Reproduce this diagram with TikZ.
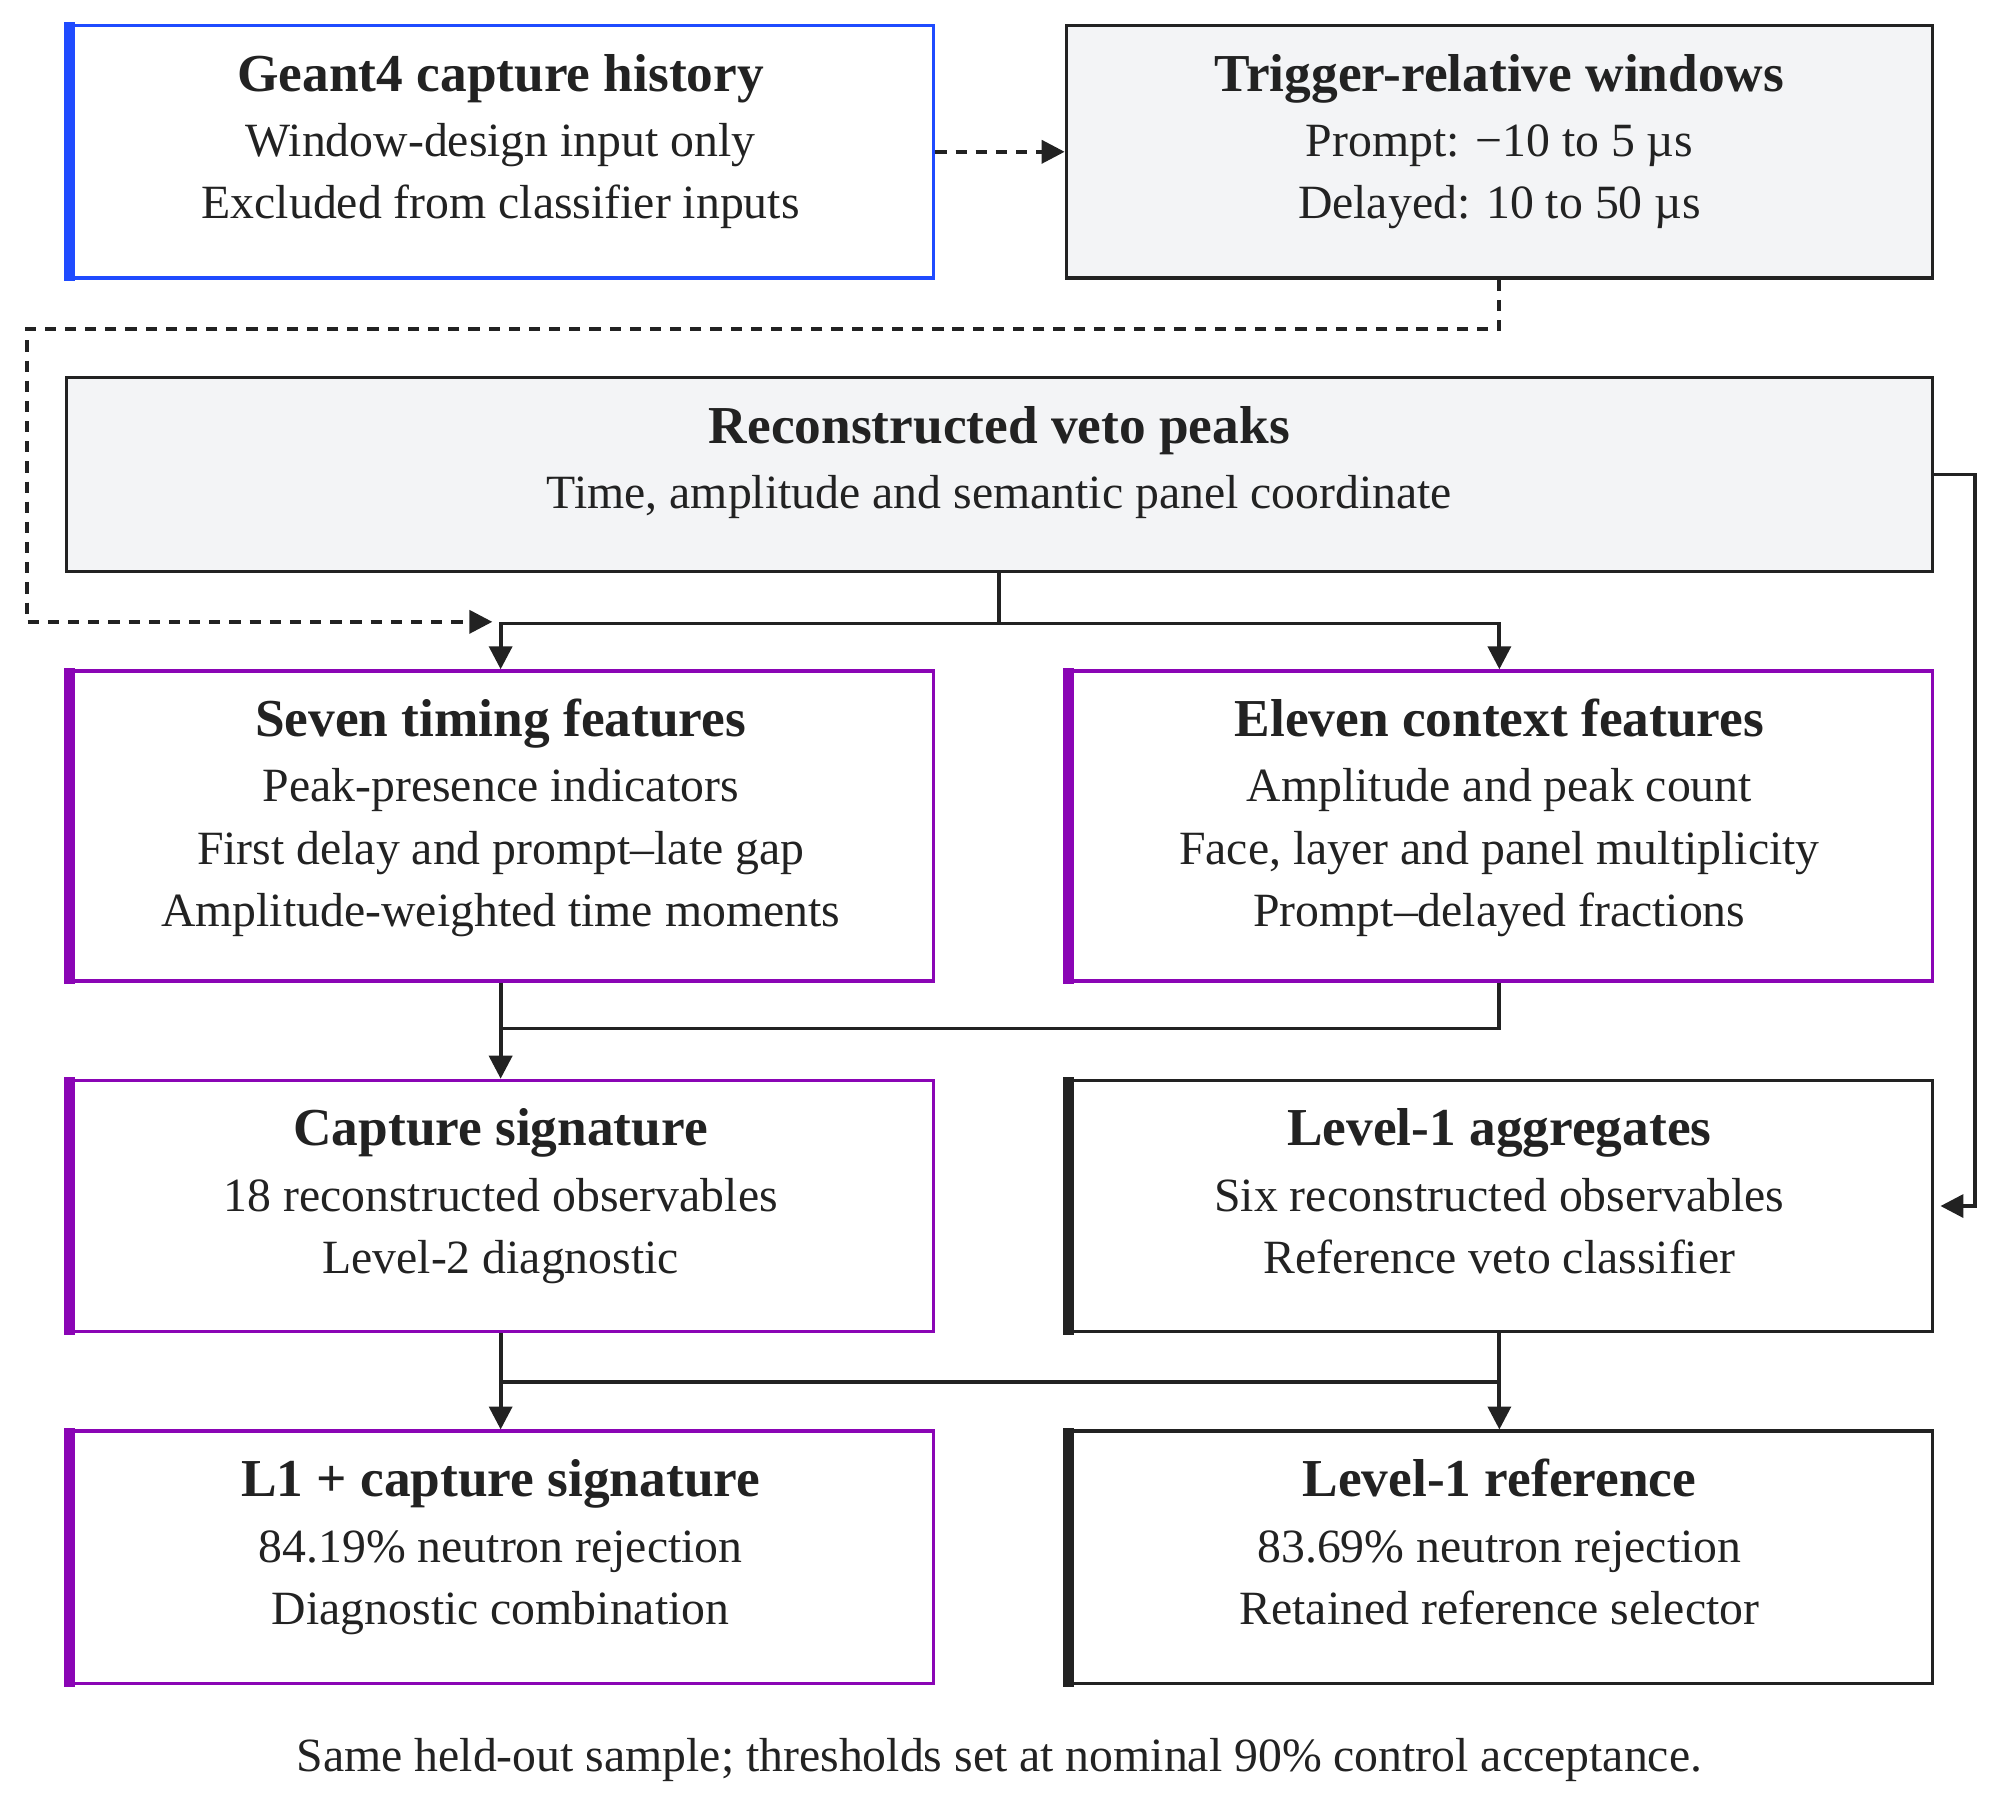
\documentclass[tikz,border=0pt]{standalone}
\usepackage{fontspec}
\setmainfont{Liberation Serif}
\usetikzlibrary{arrows.meta}
\definecolor{ink}{HTML}{222222}
\definecolor{paper}{HTML}{F3F4F6}
\definecolor{blu}{HTML}{1F4BFF}
\definecolor{purp}{HTML}{8A05B5}
\newcommand{\boxtitle}[1]{{\fontsize{11.9}{13.9}\selectfont\bfseries\strut #1}\\[0.7pt]}

\begin{document}
\begin{tikzpicture}[
	box/.style={draw=ink, line width=0.75pt, minimum width=6.79cm, minimum height=1.98cm, inner sep=0pt},
	grey/.style={box, fill=paper},
	wire/.style={draw=ink, line width=0.85pt},
	link/.style={wire, -{Triangle[length=1.8mm,width=1.8mm]}},
	hint/.style={link, dash pattern=on 2.5pt off 2pt},
	txt/.style={anchor=north, align=center, text=ink, inner sep=0pt, font=\fontsize{10.65}{13.9}\selectfont}]
\useasboundingbox (0,0) rectangle (15.68,-14.25);

% boxes
\node [box, draw=blu] (g4) at (3.925,-1.19) {};
\node [grey] (trig) at (11.755,-1.19) {};
\node [grey, minimum width=14.63cm, minimum height=1.52cm] (peaks) at (7.835,-3.72) {};
\node [box, draw=purp, minimum height=2.43cm] (seven) at (3.925,-6.475) {};
\node [box, draw=purp, minimum height=2.43cm] (eleven) at (11.755,-6.475) {};
\node [box, draw=purp, minimum height=1.97cm] (cap) at (3.925,-9.455) {};
\node [box, minimum height=1.97cm] (agg) at (11.755,-9.455) {};
\node [box, draw=purp] (l1cap) at (3.925,-12.21) {};
\node [box] (l1ref) at (11.755,-12.21) {};

% thick left edges
\foreach \b/\c in {g4/blu, seven/purp, eleven/purp, cap/purp, l1cap/purp, agg/ink, l1ref/ink}
	\fill [\c] ([shift={(-0.375pt,0.375pt)}]\b.north west) rectangle ([shift={(2.1pt,-0.375pt)}]\b.south west);

% texts
\node [txt] (g4t) at ([yshift=-0.178cm]g4.north) {\boxtitle{Geant4 capture history}Window-design input only\\Excluded from classifier inputs};
\node [txt] (trigt) at ([yshift=-0.178cm]trig.north) {\boxtitle{Trigger-relative windows}Prompt: −10 to 5 µs\\Delayed: 10 to 50 µs};
\node [txt] (peakst) at ([yshift=-0.178cm]peaks.north) {\boxtitle{Reconstructed veto peaks}Time, amplitude and semantic panel coordinate};
\node [txt] (sevent) at ([yshift=-0.178cm]seven.north) {\boxtitle{Seven timing features}Peak-presence indicators\\First delay and prompt–late gap\\Amplitude-weighted time moments};
\node [txt] (elevent) at ([yshift=-0.178cm]eleven.north) {\boxtitle{Eleven context features}Amplitude and peak count\\Face, layer and panel multiplicity\\Prompt–delayed fractions};
\node [txt] (capt) at ([yshift=-0.178cm]cap.north) {\boxtitle{Capture signature}18 reconstructed observables\\Level-2 diagnostic};
\node [txt] (aggt) at ([yshift=-0.178cm]agg.north) {\boxtitle{Level-1 aggregates}Six reconstructed observables\\Reference veto classifier};
\node [txt] (l1capt) at ([yshift=-0.178cm]l1cap.north) {\boxtitle{L1 + capture signature}84.19\% neutron rejection\\Diagnostic combination};
\node [txt] (l1reft) at ([yshift=-0.178cm]l1ref.north) {\boxtitle{Level-1 reference}83.69\% neutron rejection\\Retained reference selector};
\node [txt, anchor=base] (note) at (7.835,-13.89) {Same held-out sample; thresholds set at nominal 90\% control acceptance.};

% connectors
\coordinate (bend) at (0.21,-2.58);
\coordinate (dashend) at (3.86,-4.875);
\draw [hint] (g4) -- (trig);
\draw [hint] (trig.south) |- (bend) |- (dashend);
\draw [link] (peaks.south) -- ++(0,-0.395) -| (seven.north);
\draw [link] (peaks.south) -- ++(0,-0.395) -| (eleven.north);
\draw [link] (seven.south) -- (cap.north);
\draw [wire] (eleven.south) -- ++(0,-0.36) -| (seven.south);
\draw [link] (cap.south) -- (l1cap.north);
\draw [link] (agg.south) -- (l1ref.north);
\draw [wire] (cap.south) -- ++(0,-0.38) -| (agg.south);
\draw [link] (peaks.east) -- ++(0.32,0) |- ([xshift=0.05cm]agg.east);
\end{tikzpicture}
\end{document}
